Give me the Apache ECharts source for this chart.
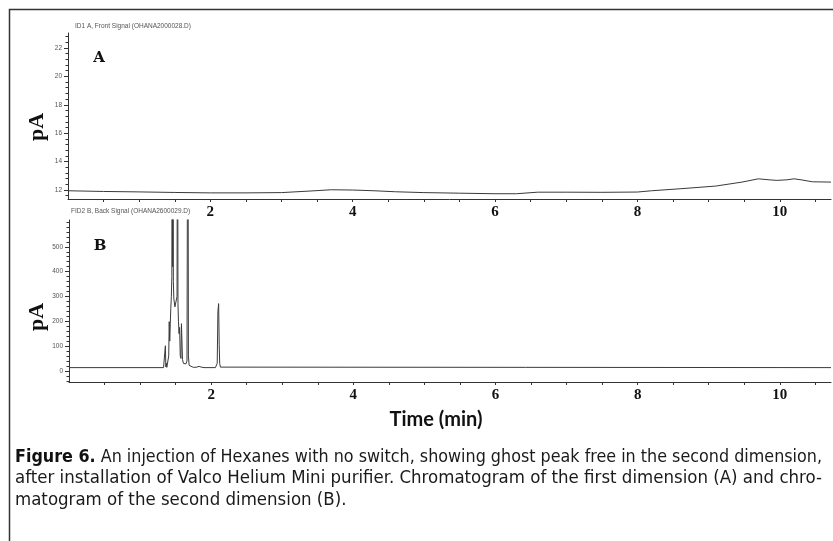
<!DOCTYPE html>
<html>
<head>
<meta charset="utf-8">
<script src="https://cdn.jsdelivr.net/npm/echarts@6/dist/echarts.min.js"></script>
<style>
  html, body { margin: 0; padding: 0; background: #ffffff; }
  #chart { width: 833px; height: 541px; }
</style>
</head>
<body>
<div id="chart"></div>
<script>
// First dimension (FID1, front signal): retention time (min) and signal (pA)
const timeA = [0, 0.5, 1.0, 1.5, 2.0, 2.5, 3.0, 3.4, 3.7, 4.0, 4.3, 4.6, 5.0, 5.5, 6.0, 6.3, 6.6, 7.0, 7.5, 8.0, 8.2, 8.6, 9.1, 9.47, 9.7, 9.85, 9.96, 10.1, 10.2, 10.3, 10.46, 10.72];
const signalA = [11.95, 11.9, 11.87, 11.83, 11.8, 11.8, 11.82, 11.93, 12.02, 12.0, 11.95, 11.88, 11.82, 11.78, 11.74, 11.74, 11.85, 11.85, 11.84, 11.86, 11.95, 12.09, 12.28, 12.56, 12.79, 12.72, 12.68, 12.72, 12.79, 12.72, 12.58, 12.56];

// Second dimension (FID2, back signal); the tallest peaks run off the top of the scale
const timeB = [0, 1.33, 1.35, 1.356, 1.362, 1.37, 1.376, 1.382, 1.395, 1.403, 1.41, 1.417, 1.425, 1.432, 1.44, 1.447, 1.452, 1.458, 1.463, 1.468, 1.475, 1.49, 1.51, 1.52, 1.527, 1.533, 1.54, 1.548, 1.556, 1.565, 1.575, 1.582, 1.59, 1.597, 1.603, 1.61, 1.625, 1.645, 1.66, 1.672, 1.68, 1.69, 1.705, 1.75, 1.8, 1.83, 1.86, 1.9, 2.06, 2.085, 2.095, 2.105, 2.113, 2.12, 2.13, 2.15, 10.72];
const signalB = [13, 13, 16, 101, 16, 30, 14, 12, 14, 60, 198, 120, 190, 251, 300, 380, 1500, 420, 1500, 360, 290, 258, 250, 300, 1500, 270, 200, 150, 175, 60, 50, 190, 185, 45, 40, 30, 28, 28, 40, 1500, 60, 22, 14, 14, 15, 18, 15, 13, 13, 30, 240, 271, 105, 30, 15, 13, 13];

// Axis labels
const xTickLabels = [2, 4, 6, 8, 10];
const yTickLabelsA = [12, 14, 16, 18, 20, 22];
const yTickLabelsB = [0, 100, 200, 300, 400, 500];

// Texts
const titleA = 'ID1 A, Front Signal (OHANA2000028.D)';
const titleB = 'FID2 B, Back Signal (OHANA2600029.D)';
const yName = 'pA';
const xName = 'Time (min)';
const captionBold = 'Figure 6.';
const captionLines = [
  ' An injection of Hexanes with no switch, showing ghost peak free in the second dimension,',
  'after installation of Valco Helium Mini purifier. Chromatogram of the first dimension (A) and chro-',
  'matogram of the second dimension (B).'
];

function zip(xs, ys) { return xs.map((x, i) => [x, ys[i]]); }
function steps(from, to, step) {
  const out = [];
  for (let v = from; v <= to + 1e-9; v += step) out.push(+v.toFixed(6));
  return out;
}

const xMinorTicks = steps(0.5, 10.5, 0.5);
const yMinorA = steps(11.6, 22.8, 0.4);
const yMinorB = steps(-40, 600, 20);

const X_MAX = 10.72;
const AXIS_COLOR = '#333';

function xAxisCfg(gridIndex) {
  return {
    type: 'value', gridIndex, min: 0, max: X_MAX,
    axisLine: { show: true, onZero: false, lineStyle: { color: AXIS_COLOR, width: 1 } },
    axisTick: { show: true, inside: false, length: 3, customValues: xMinorTicks, lineStyle: { color: AXIS_COLOR } },
    axisLabel: { show: true, customValues: xTickLabels, margin: 6, color: '#111',
      fontFamily: '"Liberation Serif", serif', fontWeight: 'bold', fontSize: 15 },
    splitLine: { show: false }
  };
}
function yAxisCfg(gridIndex, min, max, labels) {
  return {
    type: 'value', gridIndex, min, max, position: 'left',
    axisLine: { show: true, onZero: false, lineStyle: { color: AXIS_COLOR, width: 1 } },
    axisTick: { show: true, inside: false, length: 4, customValues: labels, lineStyle: { color: AXIS_COLOR } },
    axisLabel: { show: true, customValues: labels, margin: 6, color: '#555',
      fontFamily: '"Liberation Sans", sans-serif', fontSize: 6.5 },
    splitLine: { show: false }
  };
}
function yMinorCfg(gridIndex, min, max, ticks) {
  return {
    type: 'value', gridIndex, min, max, position: 'left', offset: 0,
    axisLine: { show: false, onZero: false },
    axisTick: { show: true, inside: false, length: 2.5, customValues: ticks, lineStyle: { color: AXIS_COLOR } },
    axisLabel: { show: false },
    splitLine: { show: false }
  };
}

// Caption: measure each line so lines 1 and 2 fill the justified column width
const CAP_FAMILY = '"Liberation Sans Narrow", "DejaVu Sans Condensed", "Liberation Sans", sans-serif';
const CAP_SIZE = 18;
const CAP_LEFT = 15, CAP_RIGHT = 822;
const ctx = document.createElement('canvas').getContext('2d');
function textWidth(str, weight) {
  ctx.font = `${weight} ${CAP_SIZE}px ${CAP_FAMILY}`;
  return ctx.measureText(str).width;
}
const colWidth = CAP_RIGHT - CAP_LEFT;
const w1 = textWidth(captionBold, 'bold') + textWidth(captionLines[0], 'normal');
const w2 = textWidth(captionLines[1], 'normal');
const s1 = colWidth / w1;
const s2 = colWidth / w2;
const capY = [457, 478.5, 500];

const capStyle = { fontFamily: CAP_FAMILY, fontSize: CAP_SIZE, fill: '#1a1a1a' };

const chart = echarts.init(document.getElementById('chart'), null, { renderer: 'canvas' });
chart.setOption({
  animation: false,
  backgroundColor: '#ffffff',
  grid: [
    { left: 68, top: 33, width: 763, height: 166, outerBoundsMode: 'none', containLabel: false },
    { left: 69, top: 220, width: 762, height: 162, outerBoundsMode: 'none', containLabel: false }
  ],
  xAxis: [xAxisCfg(0), xAxisCfg(1)],
  yAxis: [
    yAxisCfg(0, 11.37, 23.05, yTickLabelsA),
    yMinorCfg(0, 11.37, 23.05, yMinorA),
    yAxisCfg(1, -45, 608, yTickLabelsB),
    yMinorCfg(1, -45, 608, yMinorB)
  ],
  series: [
    { type: 'line', xAxisIndex: 0, yAxisIndex: 0, data: zip(timeA, signalA), showSymbol: false,
      clip: true, lineStyle: { color: '#3a3a3a', width: 1 }, emphasis: { disabled: true } },
    { type: 'line', xAxisIndex: 1, yAxisIndex: 2, data: zip(timeB, signalB), showSymbol: false,
      clip: true, lineStyle: { color: '#3a3a3a', width: 1 }, emphasis: { disabled: true } }
  ],
  graphic: [
    // figure frame (left and top edges)
    { type: 'polyline', silent: true, shape: { points: [[9.5, 541], [9.5, 9.5], [833, 9.5]] },
      style: { stroke: '#333', lineWidth: 1.5, fill: null } },
    // signal titles
    { type: 'text', x: 75, y: 26, style: { text: titleA, fontFamily: '"Liberation Sans", sans-serif', fontSize: 6.5,
      fill: '#555', textAlign: 'left', textVerticalAlign: 'middle' } },
    { type: 'text', x: 71, y: 211, style: { text: titleB, fontFamily: '"Liberation Sans", sans-serif', fontSize: 6.5,
      fill: '#555', textAlign: 'left', textVerticalAlign: 'middle' } },
    // panel letters
    { type: 'text', x: 99, y: 58, style: { text: 'A', fontFamily: '"DejaVu Serif", serif', fontWeight: 'bold', fontSize: 15,
      fill: '#111', textAlign: 'center', textVerticalAlign: 'middle' } },
    { type: 'text', x: 100, y: 246, style: { text: 'B', fontFamily: '"DejaVu Serif", serif', fontWeight: 'bold', fontSize: 15,
      fill: '#111', textAlign: 'center', textVerticalAlign: 'middle' } },
    // y axis names
    { type: 'text', x: 37, y: 127, rotation: Math.PI / 2, style: { text: yName, fontFamily: '"Liberation Serif", serif',
      fontWeight: 'bold', fontSize: 22, fill: '#111', textAlign: 'center', textVerticalAlign: 'middle' } },
    { type: 'text', x: 37, y: 317, rotation: Math.PI / 2, style: { text: yName, fontFamily: '"Liberation Serif", serif',
      fontWeight: 'bold', fontSize: 22, fill: '#111', textAlign: 'center', textVerticalAlign: 'middle' } },
    // x axis name
    { type: 'text', x: 436, y: 420, style: { text: xName, fontFamily: 'Lato, sans-serif', fontWeight: 'bold', fontSize: 20,
      fill: '#111', textAlign: 'center', textVerticalAlign: 'middle' } },
    // caption
    { type: 'text', x: CAP_LEFT, y: capY[0], scaleX: s1, originX: 0, originY: 0,
      style: { text: '{b|' + captionBold + '}{r|' + captionLines[0] + '}', textAlign: 'left', textVerticalAlign: 'middle',
        rich: { b: Object.assign({}, capStyle, { fontWeight: 'bold', fill: '#111' }), r: Object.assign({}, capStyle) } } },
    { type: 'text', x: CAP_LEFT, y: capY[1], scaleX: s2, originX: 0, originY: 0,
      style: Object.assign({ text: captionLines[1], textAlign: 'left', textVerticalAlign: 'middle' }, capStyle) },
    { type: 'text', x: CAP_LEFT, y: capY[2], scaleX: s2, originX: 0, originY: 0,
      style: Object.assign({ text: captionLines[2], textAlign: 'left', textVerticalAlign: 'middle' }, capStyle) }
  ]
});
</script>
</body>
</html>
